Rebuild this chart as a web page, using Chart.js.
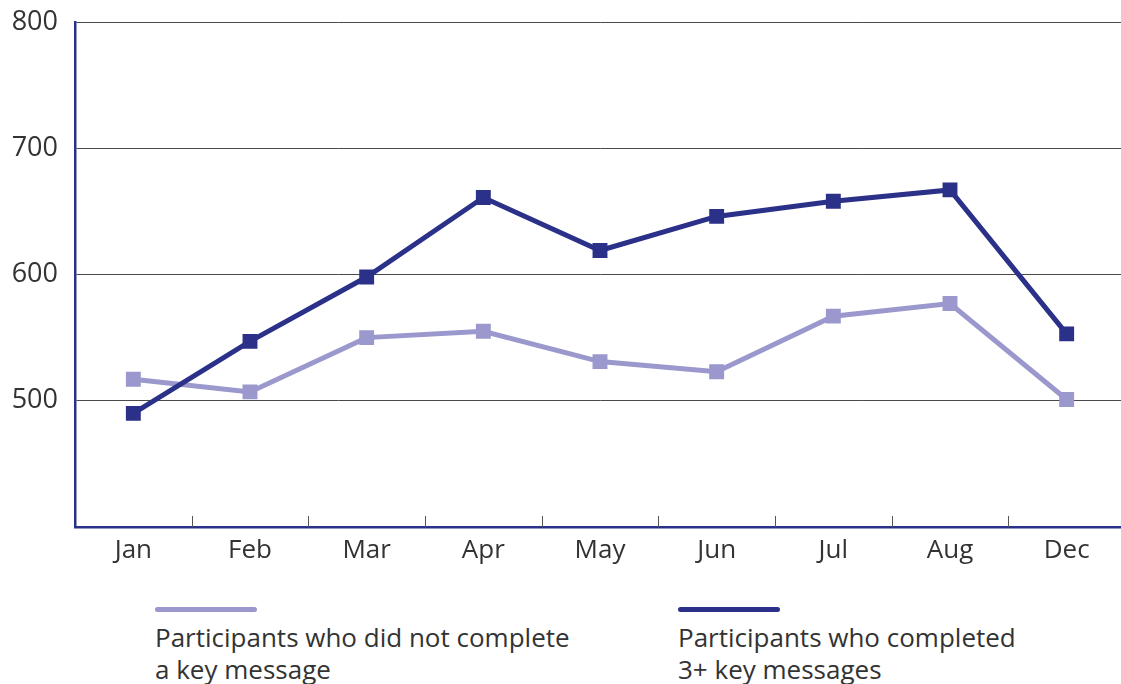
<!DOCTYPE html>
<html>
<head>
  <title>Key message completion by month</title>
  <script src="https://cdn.jsdelivr.net/npm/chart.js@4"></script>
  <style>
    body {
      margin: 0;
      background: #fff;
      font-family: 'Open Sans', sans-serif;
      overflow: hidden;
      width: 1121px;
      height: 684px;
      position: relative;
    }

    .chart-box {
      position: absolute;
      left: 0;
      top: 0;
      width: 1137px;
      height: 580px;
    }

    .legend-item {
      position: absolute;
      top: 607px;
      color: #333;
      font-size: 26px;
      line-height: 32px;
    }

    .legend-item .swatch {
      width: 102px;
      height: 5px;
      border-radius: 3px;
      margin-bottom: 9px;
    }
  </style>
</head>
<body>

  <div class="chart-box">
    <canvas id="keyChart" width="1137" height="580"></canvas>
  </div>

  <div class="legend-item" style="left: 155px;">
    <div class="swatch" style="background: #9a98cc;"></div>
    Participants who did not complete<br>a key message
  </div>
  <div class="legend-item" style="left: 678px;">
    <div class="swatch" style="background: #2b3189;"></div>
    Participants who completed<br>3+ key messages
  </div>

  <script>
    const months = ['Jan', 'Feb', 'Mar', 'Apr', 'May', 'Jun', 'Jul', 'Aug', 'Dec'];
    const noKeyMessage = [517, 507, 550, 555, 531, 523, 567, 577, 501];
    const threePlusMessages = [490, 547, 598, 661, 619, 646, 658, 667, 553];
    const yTicks = [500, 600, 700, 800];

    const navy = '#2b3189';
    const lilac = '#9a98cc';

    // short tick marks between months, drawn upward from the x axis
    const innerTicks = {
      id: 'innerTicks',
      beforeDatasetsDraw(chart) {
        const x = chart.scales.x;
        const ctx = chart.ctx;
        const bottom = chart.chartArea.bottom;
        ctx.save();
        ctx.strokeStyle = '#555';
        ctx.lineWidth = 1;
        for (let i = 0; i < months.length - 1; i++) {
          const px = Math.round((x.getPixelForValue(i) + x.getPixelForValue(i + 1)) / 2) + 0.5;
          ctx.beginPath();
          ctx.moveTo(px, bottom - 11);
          ctx.lineTo(px, bottom);
          ctx.stroke();
        }
        ctx.restore();
      }
    };

    const ctx = document.getElementById('keyChart').getContext('2d');
    new Chart(ctx, {
      type: 'line',
      data: {
        labels: months,
        datasets: [{
          label: 'Participants who completed 3+ key messages',
          data: threePlusMessages,
          borderColor: navy,
          backgroundColor: navy,
          borderWidth: 5,
          pointStyle: 'rect',
          pointRadius: 7,
          tension: 0,
          order: 0
        }, {
          label: 'Participants who did not complete a key message',
          data: noKeyMessage,
          borderColor: lilac,
          backgroundColor: lilac,
          borderWidth: 5,
          pointStyle: 'rect',
          pointRadius: 7,
          tension: 0,
          order: 1
        }]
      },
      options: {
        responsive: false,
        animation: false,
        layout: { padding: { top: 22, right: 0, left: 0, bottom: 0 } },
        plugins: {
          legend: { display: false },
          tooltip: { enabled: false }
        },
        scales: {
          x: {
            offset: true,
            grid: { display: false, drawTicks: false },
            border: { display: true, color: navy, width: 2.5 },
            ticks: {
              color: '#333',
              padding: 8,
              font: { family: 'Open Sans', size: 26 }
            },
            afterFit(scale) {
              scale.height = 53;
              scale.paddingLeft = 0;
              scale.paddingRight = 0;
            }
          },
          y: {
            min: 400,
            max: 800,
            grid: {
              drawTicks: false,
              color: ctx => ctx.tick && ctx.tick.value === 400 ? 'rgba(0,0,0,0)' : '#4a4a4a',
              lineWidth: 1
            },
            border: { display: true, color: navy, width: 2.5 },
            afterBuildTicks(scale) {
              scale.ticks = [400].concat(yTicks).map(v => ({ value: v }));
            },
            ticks: {
              color: '#333',
              padding: 17,
              font: { family: 'Open Sans', size: 27 },
              callback: v => (yTicks.includes(v) ? String(v) : '')
            },
            afterFit(scale) {
              scale.width = 75;
              scale.paddingTop = 0;
              scale.paddingBottom = 0;
            }
          }
        }
      },
      plugins: [innerTicks]
    });
  </script>
</body>
</html>
